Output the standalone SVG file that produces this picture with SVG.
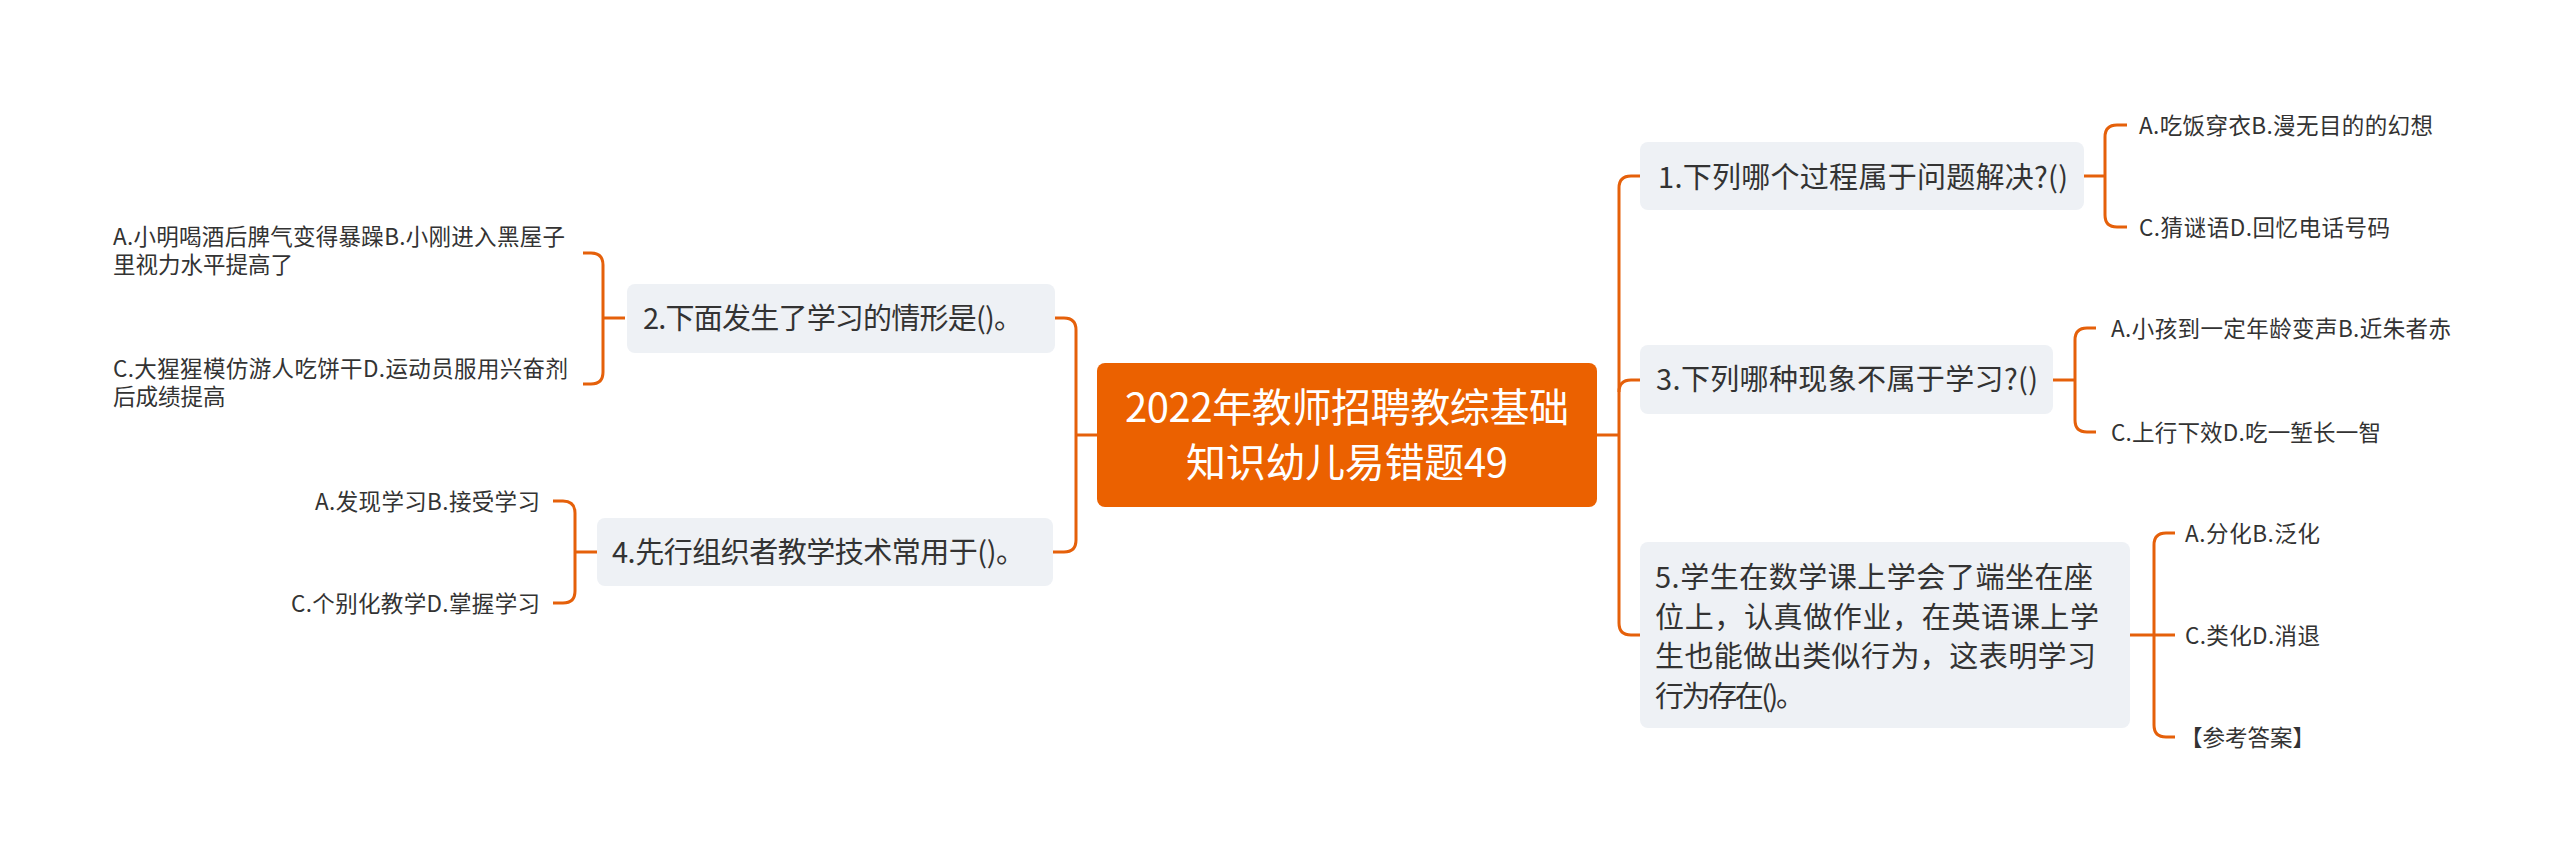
<svg xmlns="http://www.w3.org/2000/svg" width="2560" height="862" viewBox="0 0 2560 862">
<style>
text{font-family:"Noto Sans CJK SC","Noto Sans",sans-serif;fill:#333333}
.root{fill:#EB6100}
.rt{font-size:40px;fill:#ffffff;text-anchor:middle}
.node{fill:#EEF1F5}
.nt{font-size:29px}
.lt{font-size:22.5px}
.end{text-anchor:end}
.conn path{fill:none;stroke:#E5600A;stroke-width:3}
</style>
<rect width="2560" height="862" fill="#ffffff"/>
<g class="conn">
<path d="M1597 435 H1619"/>
<path d="M1640 176 H1631 Q1619 176 1619 188 V623 Q1619 635 1631 635 H1640"/>
<path d="M1619 392 Q1619 380 1631 380 H1640"/>
<path d="M1097 435 H1076"/>
<path d="M1055 318 H1064 Q1076 318 1076 330 V540 Q1076 552 1064 552 H1053"/>
<path d="M625 318 H603"/>
<path d="M583 253 H591 Q603 253 603 265 V372 Q603 384 591 384 H583"/>
<path d="M597 552 H575"/>
<path d="M553 501 H563 Q575 501 575 513 V591 Q575 603 563 603 H553"/>
<path d="M2084 176 H2105"/>
<path d="M2127 125 H2117 Q2105 125 2105 137 V215 Q2105 227 2117 227 H2127"/>
<path d="M2053 380 H2075"/>
<path d="M2096 328 H2087 Q2075 328 2075 340 V420 Q2075 432 2087 432 H2096"/>
<path d="M2130 635 H2175"/>
<path d="M2175 533 H2166 Q2154 533 2154 545 V725 Q2154 737 2166 737 H2175"/>
</g>
<g id="root">
<rect class="root" x="1097" y="363" width="500" height="144" rx="8"/>
<text class="rt" x="1347" y="422" textLength="444">2022年教师招聘教综基础</text>
<text class="rt" x="1347" y="477" textLength="322">知识幼儿易错题49</text>
</g>
<g id="n1">
<rect class="node" x="1640" y="142" width="444" height="68" rx="8"/>
<text class="nt" x="1658" y="188" textLength="410">1.下列哪个过程属于问题解决?()</text>
</g>
<g id="n1a"><text class="lt" x="2139" y="134" textLength="294">A.吃饭穿衣B.漫无目的的幻想</text></g>
<g id="n1c"><text class="lt" x="2139" y="236" textLength="251">C.猜谜语D.回忆电话号码</text></g>
<g id="n3">
<rect class="node" x="1640" y="345" width="413" height="69" rx="8"/>
<text class="nt" x="1656" y="390" textLength="382">3.下列哪种现象不属于学习?()</text>
</g>
<g id="n3a"><text class="lt" x="2111" y="337" textLength="340">A.小孩到一定年龄变声B.近朱者赤</text></g>
<g id="n3c"><text class="lt" x="2111" y="441" textLength="270">C.上行下效D.吃一堑长一智</text></g>
<g id="n5">
<rect class="node" x="1640" y="542" width="490" height="186" rx="8"/>
<text class="nt" x="1655" y="588" textLength="438">5.学生在数学课上学会了端坐在座</text>
<text class="nt" x="1655" y="628" textLength="444">位上，认真做作业，在英语课上学</text>
<text class="nt" x="1655" y="667" textLength="441">生也能做出类似行为，这表明学习</text>
<text class="nt" x="1655" y="707" textLength="150">行为存在()。</text>
</g>
<g id="n5a"><text class="lt" x="2185" y="542" textLength="135">A.分化B.泛化</text></g>
<g id="n5c"><text class="lt" x="2185" y="644" textLength="135">C.类化D.消退</text></g>
<g id="n5d"><text class="lt" x="2180" y="746" textLength="135">【参考答案】</text></g>
<g id="n2">
<rect class="node" x="627" y="284" width="428" height="69" rx="8"/>
<text class="nt" x="643" y="329" textLength="380">2.下面发生了学习的情形是()。</text>
</g>
<g id="n2a">
<text class="lt" x="113" y="245" textLength="452">A.小明喝酒后脾气变得暴躁B.小刚进入黑屋子</text>
<text class="lt" x="113" y="273">里视力水平提高了</text>
</g>
<g id="n2c">
<text class="lt" x="113" y="377" textLength="455">C.大猩猩模仿游人吃饼干D.运动员服用兴奋剂</text>
<text class="lt" x="113" y="405">后成绩提高</text>
</g>
<g id="n4">
<rect class="node" x="597" y="518" width="456" height="68" rx="8"/>
<text class="nt" x="612" y="563" textLength="413">4.先行组织者教学技术常用于()。</text>
</g>
<g id="n4a"><text class="lt end" x="540" y="510" textLength="225">A.发现学习B.接受学习</text></g>
<g id="n4c"><text class="lt end" x="540" y="612" textLength="249">C.个别化教学D.掌握学习</text></g>
</svg>
